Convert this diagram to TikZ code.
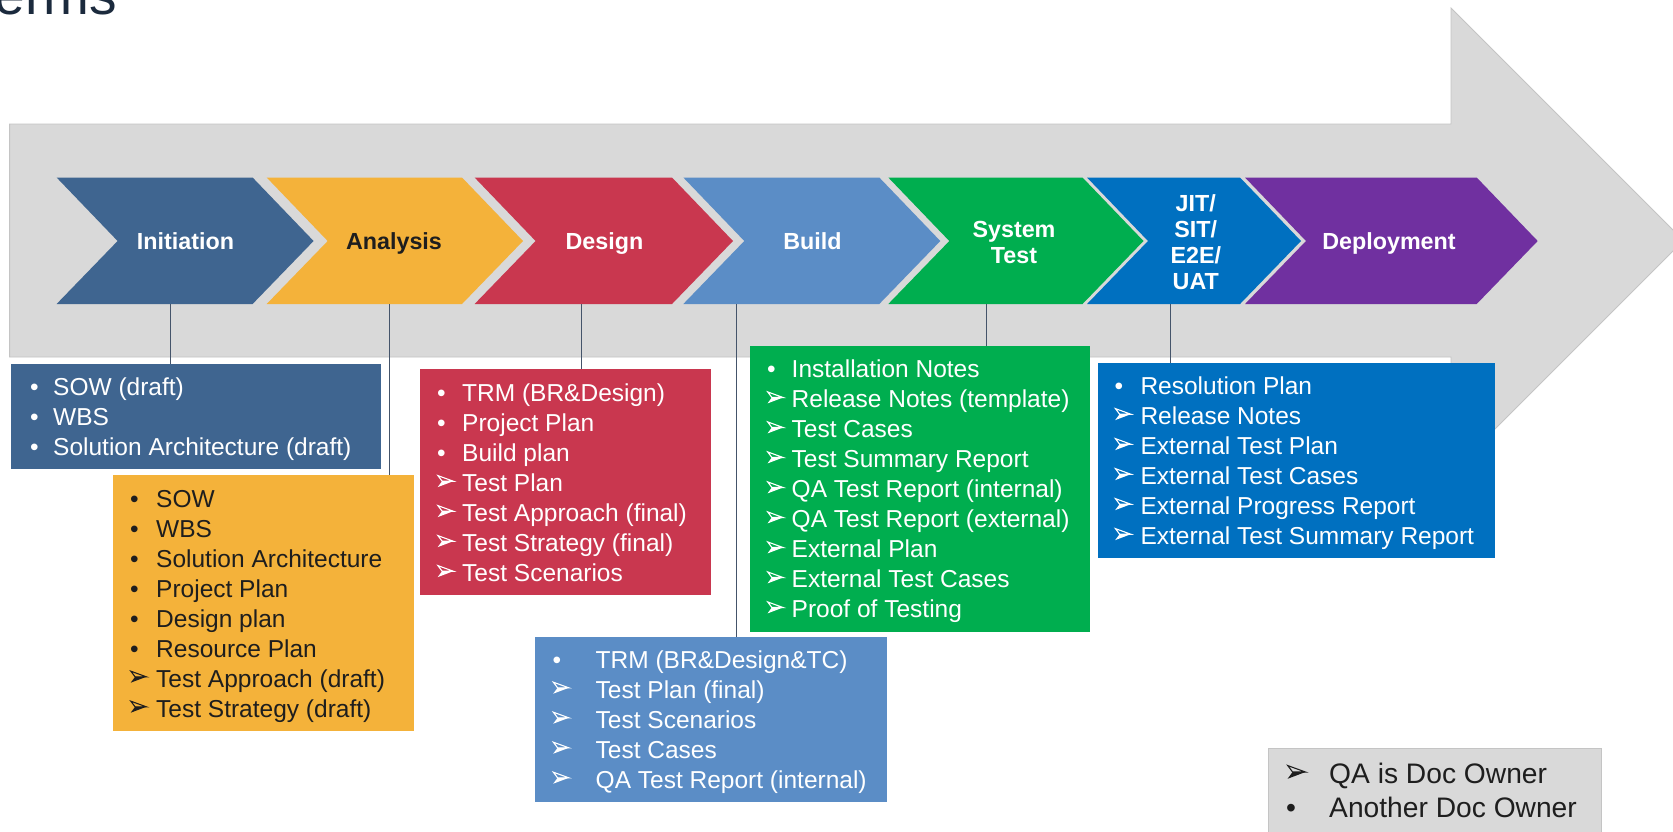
\documentclass[tikz,border=0pt]{standalone}
\usepackage{fontspec}
\setmainfont{Liberation Sans}
\definecolor{cIni}{HTML}{3F6590}
\definecolor{cAna}{HTML}{F4B23A}
\definecolor{cDes}{HTML}{C9374F}
\definecolor{cBld}{HTML}{5B8DC6}
\definecolor{cSt}{HTML}{00AE4F}
\definecolor{cJit}{HTML}{0070C0}
\definecolor{cDep}{HTML}{7030A0}
\definecolor{cBand}{HTML}{D9D9D9}
\definecolor{cBandE}{HTML}{C4C4C4}
\definecolor{cLine}{HTML}{44546A}
\definecolor{cDark}{HTML}{1E1E1E}
\definecolor{cTitle}{HTML}{1B2A3D}
\newcommand{\chev}[3]{\fill[#3] (#1,177.5) -- (#2,177.5) -- ({#2+61},241) -- (#2,304) -- (#1,304) -- ({#1+61},241) -- cycle;}
\newcommand{\blist}[6]{%
  \foreach \mk/\tx [count=\i from 0] in {#6} {
    \if\mk A
      \pic[color=#5] at ({#2+8.5}, {#4-1.5+30*\i}) {arrb};
    \else
      \node[bul, text=#5] (#1b\i) at (#2, {#4+8.8+30*\i}) {•};
    \fi
    \node[itm, text=#5] (#1t\i) at (#3, {#4+8.8+30*\i}) {\tx};
  }}
\begin{document}
\begin{tikzpicture}[x=1pt,y=-1pt,
  lab/.style={font=\bfseries\fontsize{23.3}{26}\selectfont, align=center, inner sep=0, text=white},
  labb/.style={lab, anchor=base},
  itm/.style={anchor=base west, inner sep=0, font=\fontsize{24.5}{30}\selectfont},
  bul/.style={anchor=base west, inner sep=0, font=\fontsize{24.5}{30}\selectfont},
  box/.style={anchor=north west, inner sep=0, outer sep=0, rectangle},
  conn/.style={draw=cLine, line width=1pt},
  arrb/.pic={
    \draw[line width=1.1pt, line join=miter] (-7.6,-5.6) -- (7.8,0) -- (-3.4,0) -- cycle;
    \fill (-7.8,5.9) -- (7.8,0) -- (-3.4,0) -- cycle;
  }]
\useasboundingbox (0,0) rectangle (1673,831);
\clip (0,0) rectangle (1673,831);
\fill[white] (0,0) rectangle (1673,831);
% title fragment
\node[anchor=base east, inner sep=0, text=cTitle, font=\fontsize{55}{60}\selectfont] (title) at (117,14) {erms};
% big background arrow
\path[fill=cBand, draw=cBandE, line width=0.8pt] (9.6,124) -- (1451,124) -- (1451,8) -- (1683.5,240.5) -- (1451,473) -- (1451,357) -- (9.6,357) -- cycle;
% chevrons
\chev{56.6}{252.6}{cIni}
\chev{266.7}{462}{cAna}
\chev{474.6}{672}{cDes}
\chev{683.3}{879.3}{cBld}
\chev{888.3}{1082.5}{cSt}
\chev{1087}{1240}{cJit}
\chev{1245}{1476.7}{cDep}
\node[labb] (ini) at (185.5,249.3) {Initiation};
\node[labb, text=cDark] (ana) at (394,249.3) {Analysis};
\node[labb] (des) at (604.5,249.3) {Design};
\node[labb] (bld) at (812.5,249.3) {Build};
\node[lab] (st) at (1014,242.6) {System\\Test};
\node[lab] (jit) at (1195.8,242.2) {JIT/\\SIT/\\E2E/\\UAT};
\node[labb] (dep) at (1389,249.8) {Deployment};
% connector start points
\coordinate (iniB) at (170.7,304);
\coordinate (anaB) at (389.5,304);
\coordinate (desB) at (581.3,304);
\coordinate (bldB) at (736.7,304);
\coordinate (stB) at (986,304);
\coordinate (jitB) at (1170.5,304);
% boxes
\node[box, fill=cIni, minimum width=370.5, minimum height=105] (iniBox) at (10.5,364.3) {};
\node[box, fill=cAna, minimum width=300.5, minimum height=256] (anaBox) at (113.4,475) {};
\node[box, fill=cDes, minimum width=291, minimum height=225.7] (desBox) at (420,369.3) {};
\node[box, fill=cBld, minimum width=352.1, minimum height=164.4] (bldBox) at (535.3,637.3) {};
\node[box, fill=cSt, minimum width=340.6, minimum height=286] (stBox) at (749.6,345.7) {};
\node[box, fill=cJit, minimum width=397.1, minimum height=195.6] (jitBox) at (1097.8,362.7) {};
\node[box, fill=cBand, draw=cBandE, line width=0.8pt, minimum width=333.4, minimum height=100] (legBox) at (1268.3,748.3) {};
% connectors
\draw[conn] (iniB) -- (iniB |- iniBox.north);
\draw[conn] (anaB) -- (anaB |- anaBox.north);
\draw[conn] (desB) -- (desB |- desBox.north);
\draw[conn] (bldB) -- (bldB |- bldBox.north);
\draw[conn] (stB) -- (stB |- stBox.north);
\draw[conn] (jitB) -- (jitB |- jitBox.north);
% lists
\blist{ini}{30}{53}{386.7}{white}{D/SOW (draft), D/WBS, D/Solution Architecture (draft)}
\blist{ana}{130}{156}{498.3}{cDark}{D/SOW, D/WBS, D/Solution Architecture, D/Project Plan, D/Design plan, D/Resource Plan, A/Test Approach (draft), A/Test Strategy (draft)}
\blist{des}{437}{462}{392.7}{white}{D/TRM (BR\&Design), D/Project Plan, D/Build plan, A/Test Plan, A/Test Approach (final), A/Test Strategy (final), A/Test Scenarios}
\blist{bld}{552.5}{595.5}{659.3}{white}{D/TRM (BR\&Design\&TC), A/Test Plan (final), A/Test Scenarios, A/Test Cases, A/QA Test Report (internal)}
\blist{st}{766.8}{791.5}{369}{white}{D/Installation Notes, A/Release Notes (template), A/Test Cases, A/Test Summary Report, A/QA Test Report (internal), A/QA Test Report (external), A/External Plan, A/External Test Cases, A/Proof of Testing}
\blist{jit}{1114.5}{1140.3}{385.7}{white}{D/Resolution Plan, A/Release Notes, A/External Test Plan, A/External Test Cases, A/External Progress Report, A/External Test Summary Report}
% legend
\pic[color=cDark, scale=1.15] at (1296.5,772) {arrb};
\node[itm, text=cDark, font=\fontsize{28.2}{34}\selectfont] (legt0) at (1329,783.4) {QA is Doc Owner};
\node[bul, text=cDark, font=\fontsize{28.2}{34}\selectfont] (legb1) at (1286,817.8) {•};
\node[itm, text=cDark, font=\fontsize{28.2}{34}\selectfont] (legt1) at (1329,817.8) {Another Doc Owner};
\end{tikzpicture}
\end{document}
